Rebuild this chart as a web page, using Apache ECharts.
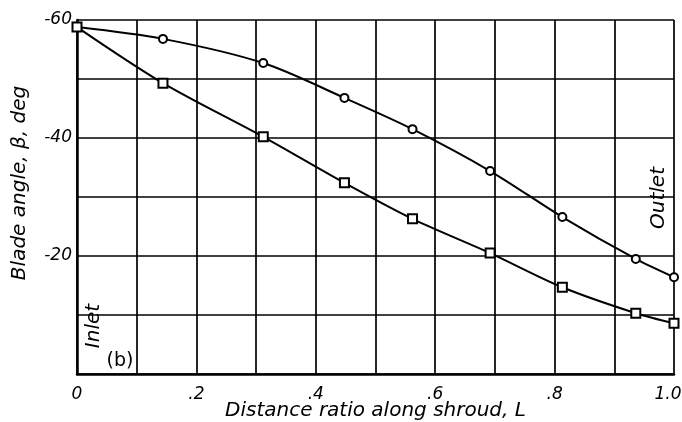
<!DOCTYPE html>
<html>
<head>
<meta charset="utf-8">
<script src="https://cdn.jsdelivr.net/npm/echarts@6/dist/echarts.min.js"></script>
<style>
html,body{margin:0;padding:0;background:#fff;}
#chart{width:682px;height:422px;}
</style>
</head>
<body>
<div id="chart"></div>
<script>
// Data
const distanceRatio = [0, 0.144, 0.312, 0.448, 0.562, 0.692, 0.813, 0.936, 1.0];
const circleAngles  = [-58.8, -56.8, -52.7, -46.8, -41.5, -34.4, -26.6, -19.5, -16.4];
const squareAngles  = [-58.8, -49.3, -40.2, -32.4, -26.3, -20.5, -14.7, -10.3, -8.6];
const xTickLabels = {0: '0', 2: '.2', 4: '.4', 6: '.6', 8: '.8', 10: '1.0'};
const yTickLabels = {'-60': '-60', '-40': '-40', '-20': '-20'};

const FONT = 'DejaVu Sans';
const chart = echarts.init(document.getElementById('chart'), null, {renderer: 'canvas'});

function pairs(xs, ys) { return xs.map((x, i) => [x, ys[i]]); }

chart.setOption({
  animation: false,
  backgroundColor: '#fff',
  grid: {left: 77, right: 8, top: 20, bottom: 48, containLabel: false, outerBoundsMode: 'none'},
  xAxis: {
    type: 'value', min: 0, max: 1, interval: 0.1,
    name: 'Distance ratio along shroud, L',
    nameLocation: 'middle', nameGap: 27, nameMoveOverlap: false,
    nameTextStyle: {fontFamily: FONT, fontStyle: 'italic', fontSize: 20, color: '#000'},
    axisLine: {show: true, onZero: false, lineStyle: {color: '#000', width: 2.5}},
    axisTick: {show: false},
    splitLine: {show: true, lineStyle: {color: '#000', width: 1.7}},
    axisLabel: {
      fontFamily: FONT, fontStyle: 'italic', fontSize: 17, color: '#000', margin: 12,
      formatter: v => {
        const k = Math.round(v * 10);
        if (k === 10) return '{last|' + xTickLabels[k] + '}';
        return xTickLabels[k] !== undefined ? xTickLabels[k] : '';
      },
      rich: {last: {fontFamily: FONT, fontStyle: 'italic', fontSize: 17, color: '#000', padding: [0, 12, 0, 0]}}
    }
  },
  yAxis: {
    type: 'value', min: -60, max: 0, interval: 10, inverse: true,
    axisLine: {show: true, onZero: false, lineStyle: {color: '#000', width: 2.5}},
    axisTick: {show: false},
    splitLine: {show: true, lineStyle: {color: '#000', width: 1.7}},
    axisLabel: {
      fontFamily: FONT, fontStyle: 'italic', fontSize: 17, color: '#000', margin: 5,
      formatter: v => { const k = String(Math.round(v)); return yTickLabels[k] !== undefined ? yTickLabels[k] : ''; }
    }
  },
  series: [
    {
      name: 'circles', type: 'line', data: pairs(distanceRatio, circleAngles),
      smooth: 0.3, symbol: 'emptyCircle', symbolSize: 8,
      lineStyle: {color: '#000', width: 2},
      itemStyle: {color: '#000', borderColor: '#000', borderWidth: 1.7}
    },
    {
      name: 'squares', type: 'line', data: pairs(distanceRatio, squareAngles),
      smooth: 0.3, symbol: 'emptyRect', symbolSize: 9,
      lineStyle: {color: '#000', width: 2},
      itemStyle: {color: '#000', borderColor: '#000', borderWidth: 1.7}
    }
  ],
  graphic: [
    {type: 'text', x: 20, y: 183, rotation: Math.PI / 2,
     style: {text: 'Blade angle, β, deg', fill: '#000', font: 'italic 20px "DejaVu Sans"', textAlign: 'center', textVerticalAlign: 'middle'}},
    {type: 'text', x: 94, y: 326, rotation: Math.PI / 2,
     style: {text: 'Inlet', fill: '#000', font: 'italic 20px "DejaVu Sans"', textAlign: 'center', textVerticalAlign: 'middle'}},
    {type: 'text', x: 120, y: 361,
     style: {text: '(b)', fill: '#000', font: '19px "DejaVu Sans"', textAlign: 'center', textVerticalAlign: 'middle'}},
    {type: 'text', x: 659, y: 198, rotation: Math.PI / 2,
     style: {text: 'Outlet', fill: '#000', font: 'italic 20px "DejaVu Sans"', textAlign: 'center', textVerticalAlign: 'middle'}}
  ]
});
</script>
</body>
</html>
